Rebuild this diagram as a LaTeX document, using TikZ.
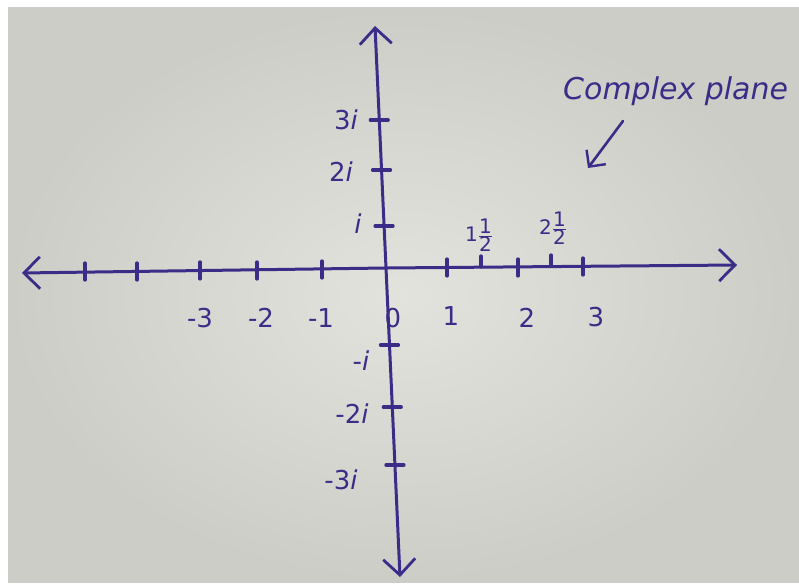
\documentclass[tikz,border=0pt]{standalone}
\usepackage{fontspec}
\setmainfont{DejaVu Sans}
\usetikzlibrary{arrows.meta}
\definecolor{ink}{HTML}{3B2C88}
\definecolor{paper}{HTML}{E3E3DD}
\definecolor{paperedge}{HTML}{CDCDC8}
\tikzset{
  axis/.style={ink, line width=3pt, line cap=round, -{Straight Barb[length=16pt,width=32pt,line width=2.8pt]}},
  tick/.style={ink, line width=3.2pt, line cap=round},
  lbl/.style={ink, font=\fontsize{26}{30}\selectfont, inner sep=0pt},
  frac/.style={ink, font=\fontsize{20}{24}\selectfont, inner sep=0pt},
}
\begin{document}
\begin{tikzpicture}[x=1pt,y=-1pt]
\useasboundingbox (0,0) rectangle (799,585);
\fill[white] (0,0) rectangle (799,585);
\shade[inner color=paper, outer color=paperedge] (8,8) rectangle (799,582);
\begin{scope}
\clip (8,8) rectangle (799,582);
% axes
\coordinate (O) at (386,268);
\coordinate (L) at (22,273);
\coordinate (R) at (737,265);
\coordinate (T) at (375,26);
\coordinate (B) at (400,577);
\draw[axis] (O) -- (L);
\draw[axis] (O) -- (R);
\draw[axis] (O) -- (T);
\draw[axis] (O) -- (B);
% real ticks
\foreach \x/\y in {85/271,137/271,200/270,257/270,322/269,447/267,518/267,583/266}
  \draw[tick] (\x,\y-8) -- (\x,\y+9);
% half ticks
\draw[tick] (481,256) -- (481,267);
\draw[tick] (551,255) -- (551,266);
% imaginary ticks
\foreach \y in {120,170,226,345,407,465}
  \draw[tick] ({375+(\y-26)*25/551-9},\y) -- ({375+(\y-26)*25/551+9},\y);
% real labels
\node[lbl] (m3) at (200,318) {-3};
\node[lbl] (m2) at (261,318) {-2};
\node[lbl] (m1) at (321,318) {-1};
\node[lbl] (z) at (393,318) {0};
\node[lbl] (p1) at (451,316) {1};
\node[lbl] (p2) at (527,318) {2};
\node[lbl] (p3) at (596,317) {3};
% half labels
\node[frac] (h1) at (479,235) {1$\frac{\mbox{1}}{\mbox{2}}$};
\node[frac] (h2) at (553,228) {2$\frac{\mbox{1}}{\mbox{2}}$};
% imaginary labels
\node[lbl] (i3) at (346,120) {3\textit{i}};
\node[lbl] (i2) at (341,172) {2\textit{i}};
\node[lbl] (i1) at (358,224) {\textit{i}};
\node[lbl] (j1) at (361,361) {-\textit{i}};
\node[lbl] (j2) at (352,414) {-2\textit{i}};
\node[lbl] (j3) at (341,480) {-3\textit{i}};
% complex plane annotation
\node[ink, font=\fontsize{30}{34}\selectfont\itshape, anchor=base west, inner sep=0pt] (cp) at (563,100) {Complex plane};
\coordinate (a1) at (623,121);
\coordinate (a2) at (588,168);
\draw[ink, line width=2.6pt, line cap=round, -{Straight Barb[length=12pt,width=24pt,line width=2.4pt]}] (a1) -- (a2);
\end{scope}
\end{tikzpicture}
\end{document}
